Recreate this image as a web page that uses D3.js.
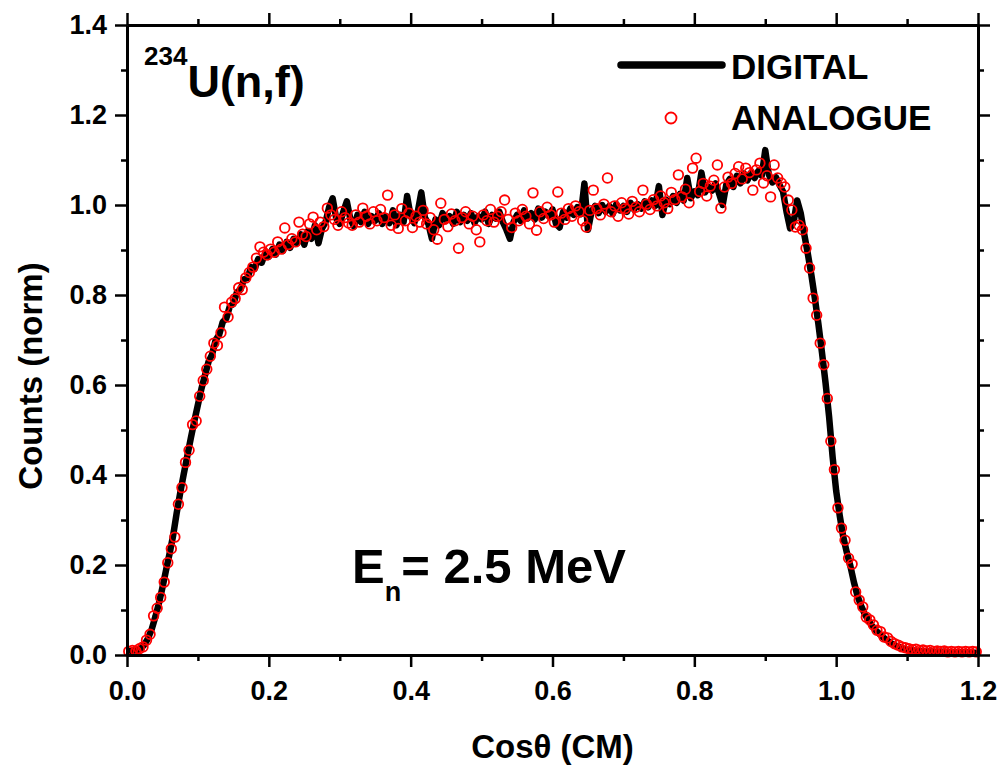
<!DOCTYPE html>
<html>
<head>
<meta charset="utf-8">
<script src="https://cdn.jsdelivr.net/npm/d3@7"></script>
<style>
  body { margin: 0; background: #fff; }
  svg text { font-family: "Liberation Sans", Arial, sans-serif; font-weight: bold; fill: #000; }
</style>
</head>
<body>
<svg id="chart" width="1001" height="770"></svg>
<script>
// x grid of both series (cos theta, CM), regular steps
var digital_start = 0, analogue_start = 0.0025, step = 0.005;

// DIGITAL: black line
var digital_counts = [
  0.008,0.009,0.010,0.011,0.015,0.024,0.038,0.058,0.085,0.115,
  0.150,0.188,0.225,0.265,0.315,0.360,0.402,0.442,0.482,0.520,
  0.556,0.592,0.622,0.652,0.668,0.700,0.712,0.740,0.748,0.775,
  0.780,0.806,0.812,0.835,0.838,0.862,0.858,0.880,0.872,0.893,
  0.885,0.902,0.890,0.912,0.898,0.918,0.905,0.925,0.915,0.935,
  0.912,0.942,0.925,0.955,0.915,0.948,0.962,0.995,1.015,0.970,
  0.958,0.985,1.008,0.968,0.952,0.978,0.962,0.985,0.958,0.975,
  0.965,0.982,0.958,0.975,0.960,0.988,0.955,0.978,0.962,1.020,
  0.975,0.960,0.985,1.028,0.972,0.958,0.925,0.968,0.955,0.982,
  0.965,0.975,0.958,0.985,0.962,0.978,0.965,0.982,0.960,0.975,
  0.968,0.985,0.958,0.978,0.970,0.985,0.962,0.945,0.925,0.962,
  0.978,0.965,0.988,0.970,0.982,0.968,0.992,0.972,0.985,0.975,
  0.990,0.958,0.950,0.985,0.972,0.992,0.978,0.995,0.980,1.048,
  0.945,0.985,0.998,0.982,1.000,0.985,0.998,0.980,1.002,0.988,
  0.998,0.985,1.005,0.990,1.002,0.992,1.008,0.995,1.010,0.998,
  1.042,0.978,1.012,1.002,1.020,1.005,1.025,1.010,1.060,1.015,
  1.030,1.022,1.072,1.028,1.040,1.032,1.048,1.025,1.000,1.045,
  1.058,1.040,1.065,1.048,1.070,1.055,1.072,1.060,1.075,1.065,
  1.122,1.068,1.050,1.062,1.045,1.030,0.985,0.948,0.962,1.010,
  0.982,0.935,0.892,0.845,0.792,0.735,0.672,0.605,0.530,0.440,
  0.365,0.310,0.262,0.228,0.198,0.162,0.132,0.110,0.092,0.078,
  0.066,0.056,0.048,0.041,0.035,0.029,0.024,0.020,0.017,0.014,
  0.012,0.011,0.010,0.009,0.009,0.008,0.008,0.008,0.007,0.007,
  0.007,0.007,0.006,0.006,0.006,0.006,0.006,0.006,0.005,0.005,
  0.005
];

// ANALOGUE: red open circles
var analogue_counts = [
  0.008,0.010,0.009,0.014,0.018,0.033,0.046,0.087,0.104,0.128,
  0.162,0.205,0.236,0.262,0.335,0.372,0.428,0.455,0.512,0.520,
  0.575,0.610,0.635,0.664,0.693,0.688,0.716,0.773,0.751,0.784,
  0.792,0.816,0.812,0.838,0.850,0.862,0.882,0.907,0.895,0.889,
  0.902,0.895,0.918,0.902,0.949,0.912,0.925,0.918,0.962,0.935,
  0.930,0.958,0.973,0.945,0.962,0.952,0.993,0.978,0.968,0.955,
  0.985,0.972,0.960,0.955,0.978,0.962,0.993,0.975,0.958,0.985,
  0.965,0.990,0.972,1.022,0.955,0.978,0.948,0.992,0.965,0.982,
  0.950,0.975,0.962,0.988,0.958,0.972,0.945,0.924,1.004,0.968,
  0.952,0.980,0.965,0.904,0.972,0.985,0.958,0.975,0.945,0.918,
  0.978,0.965,0.990,0.962,0.975,0.985,1.011,0.968,0.950,0.982,
  0.965,0.990,0.975,0.958,1.027,0.944,0.985,0.970,0.995,0.978,
  0.962,1.029,0.982,0.968,0.992,0.975,0.998,0.985,0.965,0.951,
  0.988,1.033,0.992,0.978,1.002,1.060,0.985,0.998,0.975,1.005,
  0.992,0.980,1.008,0.995,0.985,1.033,1.002,0.990,1.012,0.998,
  1.020,1.005,0.992,1.028,1.012,1.067,1.018,1.035,1.005,1.082,
  1.104,1.030,1.048,1.020,1.042,1.055,1.089,0.993,1.040,1.062,
  1.048,1.070,1.085,1.058,1.082,1.072,1.033,1.078,1.093,1.049,
  1.065,1.018,1.089,1.060,1.049,1.040,1.011,0.989,0.951,0.955,
  0.945,0.904,0.860,0.793,0.755,0.693,0.645,0.570,0.475,0.412,
  0.327,0.282,0.255,0.215,0.202,0.140,0.122,0.107,0.084,0.078,
  0.067,0.055,0.052,0.040,0.038,0.030,0.025,0.022,0.018,0.016,
  0.014,0.012,0.013,0.010,0.011,0.009,0.010,0.008,0.009,0.008,
  0.009,0.007,0.008,0.007,0.008,0.007,0.008,0.007,0.008,0.007
];

var x_ticks = [0, 0.2, 0.4, 0.6, 0.8, 1.0, 1.2];
var x_minor = [0.1, 0.3, 0.5, 0.7, 0.9, 1.1];
var y_ticks = [0, 0.2, 0.4, 0.6, 0.8, 1.0, 1.2, 1.4];
var y_minor = [0.1, 0.3, 0.5, 0.7, 0.9, 1.1, 1.3];

var margin = { left: 127, right: 23, top: 25, bottom: 115 };
var width = 1001 - margin.left - margin.right;
var height = 770 - margin.top - margin.bottom;

var svg = d3.select('#chart');
var g = svg.append('g')
    .attr('transform', 'translate(' + margin.left + ',' + margin.top + ')');

var x = d3.scaleLinear().domain([0, 1.2]).range([0, width]);
var y = d3.scaleLinear().domain([0, 1.4]).range([height, 0]);

var digital = digital_counts.map(function (v, i) {
    return [digital_start + i * step, v];
});
var analogue = analogue_counts.map(function (v, i) {
    return [analogue_start + i * step, v];
});

// data
g.append('path')
    .datum(digital)
    .attr('fill', 'none')
    .attr('stroke', '#000')
    .attr('stroke-width', 6.5)
    .attr('stroke-linejoin', 'round')
    .attr('d', d3.line()
        .x(function (d) { return x(d[0]); })
        .y(function (d) { return y(d[1]); }));

g.selectAll('circle.analogue')
    .data(analogue)
    .enter()
    .append('circle')
    .attr('class', 'analogue')
    .attr('cx', function (d) { return x(d[0]); })
    .attr('cy', function (d) { return y(d[1]); })
    .attr('r', 4.8)
    .attr('fill', 'none')
    .attr('stroke', '#ff0000')
    .attr('stroke-width', 1.8);

// axes, ticks outward on all four sides
function draw_axis(axis, transform, labelled) {
    var a = g.append('g').attr('transform', transform).call(axis);
    a.select('.domain').attr('stroke-width', 3);
    a.selectAll('.tick line').attr('stroke-width', 2.5);
    a.selectAll('.tick text').style('font-size', '27px');
    if (!labelled) { a.selectAll('.tick text').remove(); }
    return a;
}

var fmt = d3.format('.1f');
draw_axis(d3.axisBottom(x).tickValues(x_ticks).tickFormat(fmt).tickSize(12).tickSizeOuter(0).tickPadding(14),
    'translate(0,' + height + ')', true);
draw_axis(d3.axisBottom(x).tickValues(x_minor).tickSize(6).tickSizeOuter(0),
    'translate(0,' + height + ')', false);
draw_axis(d3.axisLeft(y).tickValues(y_ticks).tickFormat(fmt).tickSize(12).tickSizeOuter(0).tickPadding(8),
    'translate(0,0)', true);
draw_axis(d3.axisLeft(y).tickValues(y_minor).tickSize(6).tickSizeOuter(0),
    'translate(0,0)', false);
draw_axis(d3.axisTop(x).tickValues(x_ticks).tickSize(12).tickSizeOuter(0),
    'translate(0,0)', false);
draw_axis(d3.axisTop(x).tickValues(x_minor).tickSize(6).tickSizeOuter(0),
    'translate(0,0)', false);
draw_axis(d3.axisRight(y).tickValues(y_ticks).tickSize(12).tickSizeOuter(0),
    'translate(' + width + ',0)', false);
draw_axis(d3.axisRight(y).tickValues(y_minor).tickSize(6).tickSizeOuter(0),
    'translate(' + width + ',0)', false);

// axis titles
svg.append('text')
    .attr('x', margin.left + width / 2)
    .attr('y', 758)
    .attr('text-anchor', 'middle')
    .style('font-size', '33px')
    .text('Cosθ (CM)');

svg.append('text')
    .attr('transform', 'translate(42,' + (margin.top + height / 2 + 36) + ') rotate(-90)')
    .attr('text-anchor', 'middle')
    .style('font-size', '33px')
    .text('Counts (norm)');

// reaction label
var reaction = svg.append('text').attr('x', 144).attr('y', 97);
reaction.append('tspan').attr('dy', -32).style('font-size', '26px').text('234');
reaction.append('tspan').attr('dy', 32).style('font-size', '45px').text('U(n,f)');

// energy label
var energy = svg.append('text').attr('x', 352).attr('y', 583).style('font-size', '49px');
energy.append('tspan').text('E');
energy.append('tspan').attr('dy', 18).style('font-size', '27px').text('n');
energy.append('tspan').attr('dy', -18).text('= 2.5 MeV');

// legend
svg.append('line')
    .attr('x1', 621).attr('x2', 722)
    .attr('y1', 65).attr('y2', 65)
    .attr('stroke', '#000')
    .attr('stroke-width', 7.5)
    .attr('stroke-linecap', 'round');
svg.append('text').attr('x', 731).attr('y', 79).style('font-size', '35px').text('DIGITAL');

svg.append('circle')
    .attr('cx', 671).attr('cy', 118).attr('r', 5.5)
    .attr('fill', 'none')
    .attr('stroke', '#ff0000')
    .attr('stroke-width', 1.8);
svg.append('text').attr('x', 731).attr('y', 130).style('font-size', '35px').text('ANALOGUE');
</script>
</body>
</html>
